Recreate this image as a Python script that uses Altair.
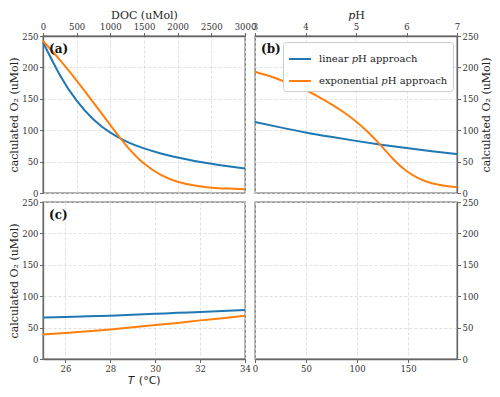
import altair as alt
import pandas as pd

LIN = "linear 𝑝H approach"
EXP = "exponential 𝑝H approach"
SERIES = [LIN, EXP]
COLORS = ["#1f77b4", "#ff7f0e"]

# Panel (a): O2 vs DOC
DOC = [0, 250, 500, 750, 1000, 1250, 1500, 1750, 2000, 2250, 2500, 2750, 3000]
A_LIN = [240, 188, 147, 117, 96, 81.5, 71, 63, 56.5, 51, 46.5, 42.5, 39]
A_EXP = [242, 212, 179, 144, 108, 74, 47, 29, 18, 12, 8.5, 7, 6]
DOC_TICKS = [0, 500, 1000, 1500, 2000, 2500, 3000]

# Panel (b): O2 vs pH
PH_LIN = [3, 3.5, 4, 4.5, 5, 5.5, 6, 6.5, 7]
B_LIN = [113, 104.5, 96.5, 89.5, 83, 77, 71.5, 66.5, 62]
PH_EXP = [3, 3.25, 3.5, 3.75, 4, 4.25, 4.5, 4.75, 5, 5.25, 5.5, 5.75, 6, 6.25, 6.5, 6.75, 7]
B_EXP = [193, 187, 180, 172.5, 164, 153.5, 142, 129, 114, 96, 75, 53, 35, 23, 15.5, 11.5, 9]
PH_TICKS = [3, 4, 5, 6, 7]

# Panel (c): O2 vs temperature
TEMP = [25, 26, 27, 28, 29, 30, 31, 32, 33, 34]
C_LIN = [66, 67, 68, 69, 70.5, 72, 73.5, 75, 76.5, 78]
C_EXP = [39, 41.5, 44, 47, 50.5, 54, 57.5, 61.5, 65, 69]
T_TICKS = [26, 28, 30, 32, 34]

# Panel (d): empty axes
D_DOMAIN = [0, 198]
D_TICKS = [0, 50, 100, 150]

Y_TICKS = [0, 50, 100, 150, 200, 250]
Y_DOMAIN = [0, 250]

W, H = 202, 157
SERIF = "DejaVu Serif"


def long_df(xs_lin, lin, xs_exp, exp):
    return pd.DataFrame({
        "x": list(xs_lin) + list(xs_exp),
        "O2": list(lin) + list(exp),
        "series": [LIN] * len(xs_lin) + [EXP] * len(xs_exp),
    })


color_scale = alt.Scale(domain=SERIES, range=COLORS)


def lines(df, xenc, yenc, legend=None):
    color = alt.Color("series:N", scale=color_scale, legend=legend)
    base = alt.Chart(df).mark_line(strokeWidth=2, interpolate="natural").encode(
        x=xenc, y=yenc, color=color
    )
    return [base.transform_filter(alt.datum.series == s) for s in SERIES]


def panel_label(t):
    return alt.Chart(pd.DataFrame({"t": [t]})).mark_text(
        font=SERIF, fontSize=12, fontWeight="bold", align="left",
        baseline="middle", color="#111"
    ).encode(text="t:N", x=alt.value(6), y=alt.value(13))


def yscale():
    return alt.Scale(domain=Y_DOMAIN, nice=False, zero=False)


# (a)
xa = alt.X("x:Q", scale=alt.Scale(domain=[0, 3000], nice=False, zero=False),
           axis=alt.Axis(orient="top", title="DOC (uMol)", values=DOC_TICKS, format="d"))
ya = alt.Y("O2:Q", scale=yscale(),
           axis=alt.Axis(orient="left", title="caclulated O₂ (uMol)", values=Y_TICKS, format="d"))
a = alt.layer(*lines(long_df(DOC, A_LIN, DOC, A_EXP), xa, ya), panel_label("(a)")).properties(width=W, height=H)

# (b)
xb = alt.X("x:Q", scale=alt.Scale(domain=[3, 7], nice=False, zero=False),
           axis=alt.Axis(orient="top", title="𝑝H", values=PH_TICKS, format="d"))
yb = alt.Y("O2:Q", scale=yscale(),
           axis=alt.Axis(orient="right", title="calculated O₂ (uMol)", titleAngle=270,
                         titleBaseline="top", values=Y_TICKS, format="d"))
leg = alt.Legend(
    title=None, orient="none", legendX=28, legendY=6, direction="vertical",
    symbolType="stroke", symbolStrokeWidth=2, symbolSize=480,
    labelFont=SERIF, labelFontSize=10, labelColor="#222", labelOffset=7,
    fillColor="white", strokeColor="#cccccc", cornerRadius=3, padding=5, rowPadding=5,
)
b = alt.layer(*lines(long_df(PH_LIN, B_LIN, PH_EXP, B_EXP), xb, yb, legend=leg),
              panel_label("(b)")).properties(width=W, height=H)

# (c)
xc = alt.X("x:Q", scale=alt.Scale(domain=[25, 34], nice=False, zero=False),
           axis=alt.Axis(orient="bottom", title="𝑇 (°C)", titleFont="DejaVu Sans", values=T_TICKS, format="d"))
yc = alt.Y("O2:Q", scale=yscale(),
           axis=alt.Axis(orient="left", title="calculated O₂ (uMol)", values=Y_TICKS, format="d"))
c = alt.layer(*lines(long_df(TEMP, C_LIN, TEMP, C_EXP), xc, yc), panel_label("(c)")).properties(width=W, height=H)

# (d)
d = alt.Chart(pd.DataFrame({"x": D_DOMAIN, "y": [0, 0]})).mark_point(opacity=0).encode(
    x=alt.X("x:Q", scale=alt.Scale(domain=D_DOMAIN, nice=False, zero=False),
            axis=alt.Axis(orient="bottom", title=None, values=D_TICKS, format="d")),
    y=alt.Y("y:Q", scale=yscale(),
            axis=alt.Axis(orient="right", title=None, values=Y_TICKS, format="d")),
).properties(width=W, height=H)

chart = alt.concat(a, b, c, d, columns=2, spacing={"row": 9, "column": 10}).resolve_scale(
    x="independent", y="independent", color="independent"
).properties(bounds="flush", padding=0).configure_view(
    stroke="#666666", strokeWidth=1.3
).configure_axis(
    domainColor="#666666", domainWidth=1.3, tickColor="#666666", tickSize=3.5, tickWidth=1,
    labelFont=SERIF, labelFontSize=8.5, labelColor="#333333", labelPadding=1.5,
    labelFlush=False, labelOverlap=False,
    titleFont=SERIF, titleFontSize=11, titleFontWeight="normal", titleColor="#222222",
    titlePadding=2, grid=True, gridColor="#d9d9d9", gridDash=[3, 2], gridWidth=0.8,
)

chart.save("out.html", embed_options={"renderer": "svg", "actions": False})
